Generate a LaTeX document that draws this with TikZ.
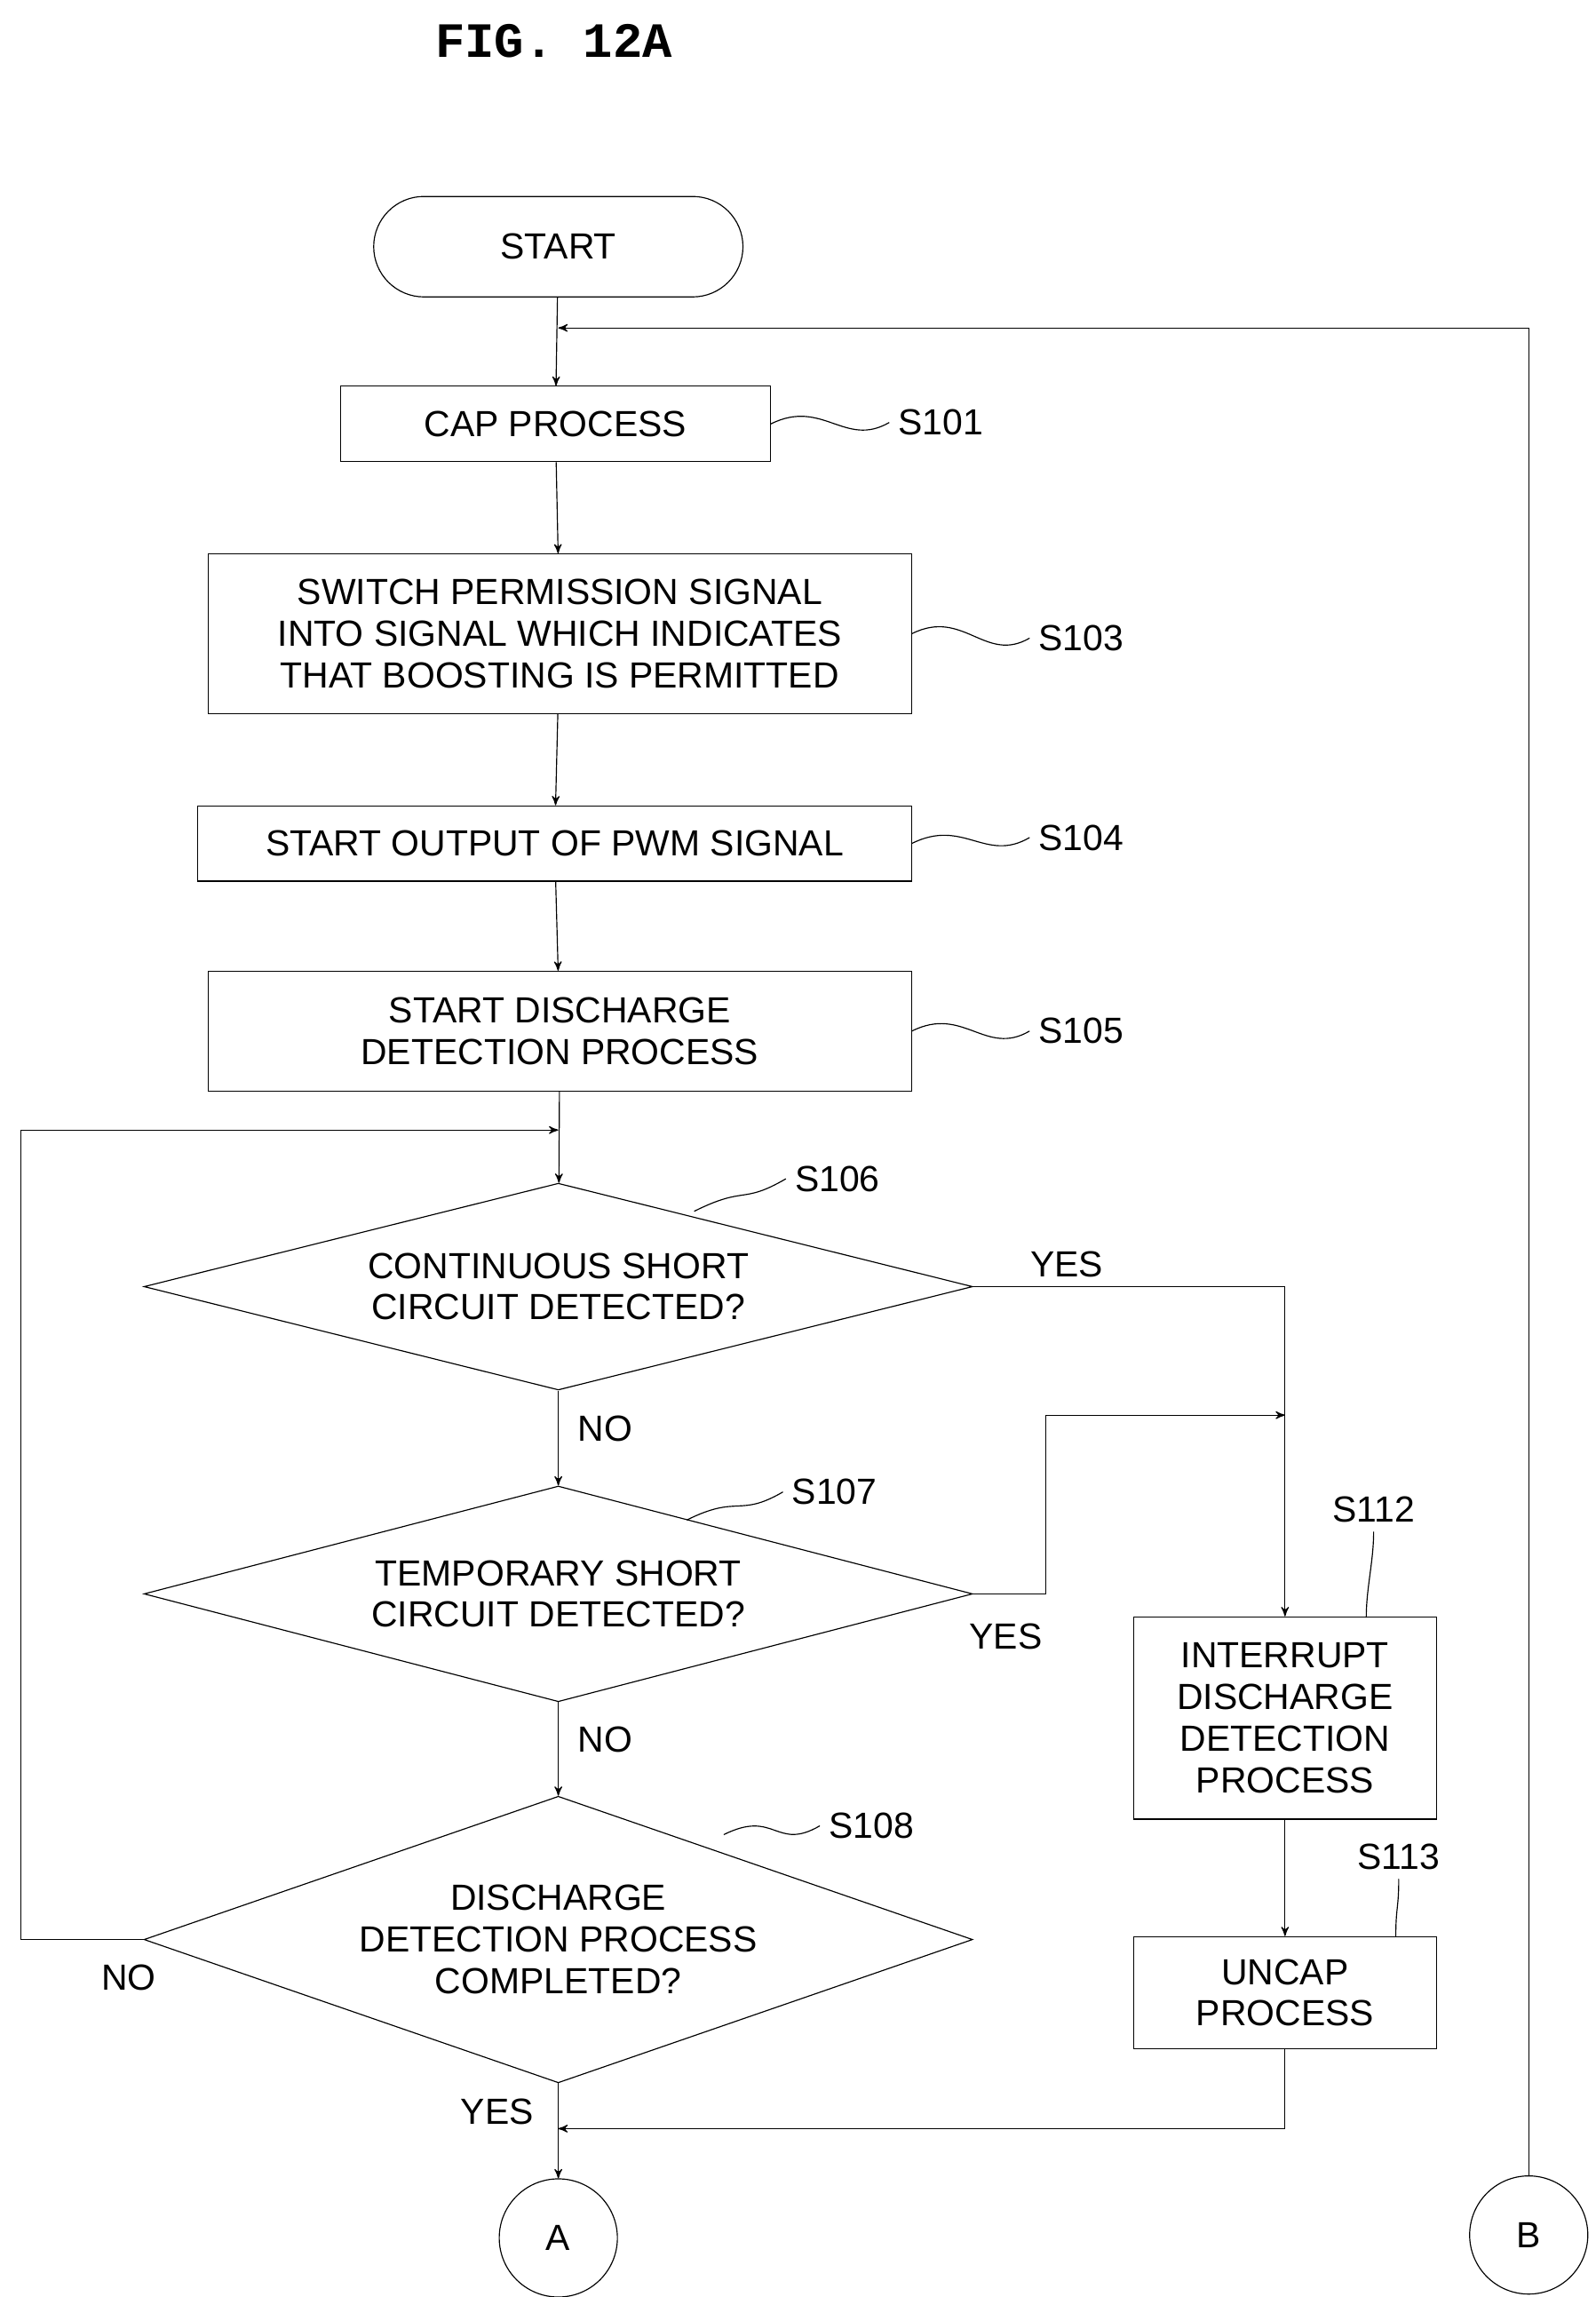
\documentclass[tikz,border=0pt]{standalone}
\usepackage{fontspec}
\setmainfont{Liberation Sans}
\newfontfamily\figfont{Liberation Mono}
\usetikzlibrary{arrows,shapes.geometric,positioning}

\tikzset{
  box/.style={draw,thin,align=center,inner sep=2pt},
  dec/.style={draw,thin,diamond,align=center,inner sep=0pt},
  term/.style={draw,thin,rounded corners=0.68cm,minimum width=5cm,minimum height=1.36cm},
  conn/.style={draw,thin,circle,minimum size=1.6cm},
  tag/.style={font=\fontsize{14}{16}\selectfont},
  wig/.style={thin},
}

\begin{document}
\begin{tikzpicture}[>=stealth',font=\fontsize{14}{16}\selectfont]
\useasboundingbox (0,0) rectangle (21.6,-31.1);

\node[font=\figfont\bfseries\fontsize{19}{22}\selectfont] (title) at (7.5,-0.56) {FIG. 12A};

\node[term] (start) at (7.56,-3.34) {START};
\node[box,minimum width=5.82cm,minimum height=1.02cm] (s101) at (7.52,-5.74) {CAP PROCESS};
\node[box,minimum width=9.52cm,minimum height=2.16cm] (s103) at (7.58,-8.58)
  {SWITCH PERMISSION SIGNAL\\INTO SIGNAL WHICH INDICATES\\THAT BOOSTING IS PERMITTED};
\node[box,minimum width=9.66cm,minimum height=1.02cm] (s104) at (7.51,-11.42) {START OUTPUT OF PWM SIGNAL};
\node[box,minimum width=9.52cm,minimum height=1.62cm] (s105) at (7.58,-13.96) {START DISCHARGE\\DETECTION PROCESS};
\node[dec,shape aspect=4,minimum width=11.22cm,minimum height=2.8cm] (s106) at (7.56,-17.42) {CONTINUOUS SHORT\\CIRCUIT DETECTED?};
\node[dec,shape aspect=3.84,minimum width=11.22cm,minimum height=2.92cm] (s107) at (7.56,-21.58) {TEMPORARY SHORT\\CIRCUIT DETECTED?};
\node[dec,shape aspect=2.89,minimum width=11.22cm,minimum height=3.88cm] (s108) at (7.56,-26.26) {DISCHARGE\\DETECTION PROCESS\\COMPLETED?};
\node[box,minimum width=4.1cm,minimum height=2.74cm] (s112) at (17.4,-23.26) {INTERRUPT\\DISCHARGE\\DETECTION\\PROCESS};
\node[box,minimum width=4.1cm,minimum height=1.52cm] (s113) at (17.4,-26.98) {UNCAP\\PROCESS};
\node[conn] (ca) at (7.56,-30.3) {A};
\node[conn] (cb) at (20.7,-30.26) {B};

% step tags
\node[tag] (t101) at (12.74,-5.72) {S101};
\node[tag] (t103) at (14.64,-8.64) {S103};
\node[tag] (t104) at (14.64,-11.34) {S104};
\node[tag] (t105) at (14.64,-13.96) {S105};
\node[tag] (t106) at (11.34,-15.96) {S106};
\node[tag] (t107) at (11.3,-20.2) {S107};
\node[tag] (t108) at (11.8,-24.72) {S108};
\node[tag] (t112) at (18.6,-20.44) {S112};
\node[tag] (t113) at (18.94,-25.14) {S113};

\coordinate (w106) at (9.4,-16.4);
\coordinate (w107) at (9.3,-20.58);
\coordinate (w108) at (9.8,-24.84);
\coordinate (w112) at (18.5,-21.9);
\coordinate (w113) at (18.9,-26.22);

\foreach \a/\b in {s101.east/t101.west,s103.east/t103.west,s104.east/t104.west,s105.east/t105.west,
                   w106/t106.west,w107/t107.west,w108/t108.west}
  \draw[wig] (\a) .. controls +(0.7,0.35) and +(-0.6,-0.35) .. (\b);
\foreach \a/\b in {w112/t112.south,w113/t113.south}
  \draw[wig] (\a) .. controls +(0,0.4) and +(0,-0.4) .. (\b);

% joints
\coordinate (top) at (7.56,-4.44);
\coordinate (tr) at (20.7,-4.44);
\coordinate (lp) at (7.56,-15.3);
\coordinate (ll) at (0.28,-15.3);
\coordinate (yj) at (17.4,-19.16);
\coordinate (yc) at (14.16,-19.16);
\coordinate (bj) at (7.56,-28.82);

\draw[->] (start) -- (s101);
\draw[->] (s101) -- (s103);
\draw[->] (s103) -- (s104);
\draw[->] (s104) -- (s105);
\draw[->] (s105) -- (s106);
\draw[->] (s106) -- node[right=4pt,pos=0.4]{NO} (s107);
\draw[->] (s107) -- node[right=4pt,pos=0.4]{NO} (s108);
\draw[->] (s108) -- node[left=6pt,pos=0.3]{YES} (ca);
\draw[->] (s106.east) -| node[pos=0.15,above]{YES} (s112.north);
\draw[->] (s107.east) -| (yc) -- (yj);
\node (yes107) at (13.62,-22.16) {YES};
\draw[->] (s112) -- (s113);
\draw[->] (s113.south) |- (bj);
\draw (s108.west) -| node[pos=0.06,below=6pt]{NO} (ll);
\draw[->] (ll) -- (lp);
\draw (cb.north) -- (tr);
\draw[->] (tr) -- (top);
\end{tikzpicture}
\end{document}
